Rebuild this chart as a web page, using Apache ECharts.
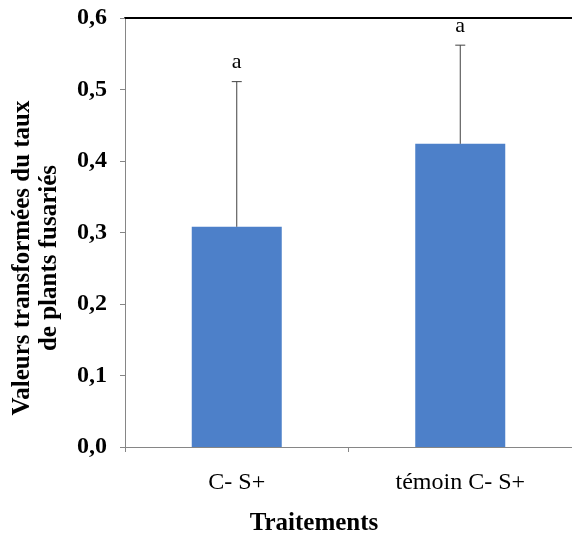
<!DOCTYPE html>
<html>
<head>
<meta charset="utf-8">
<script src="https://cdn.jsdelivr.net/npm/echarts@6/dist/echarts.min.js"></script>
<style>
  html, body { margin: 0; padding: 0; background: #fff; }
  #chart { width: 572px; height: 533px; }
</style>
</head>
<body>
<div id="chart"></div>
<script>
// données
const categories = ['C- S+', 'témoin C- S+']
const means = [0.308, 0.424]
const upper = [0.511, 0.562]   // moyenne + écart-type
const letters = ['a', 'a']
const yTicks = ['0,0', '0,1', '0,2', '0,3', '0,4', '0,5', '0,6']

const serif = '"Liberation Serif", "DejaVu Serif", serif'
const grey = '#868686'

const chart = echarts.init(document.getElementById('chart'))

const option = {
  animation: false,
  backgroundColor: '#fff',
  grid: { left: 125, right: -5, top: 18, bottom: 86 },
  title: {
    text: 'Traitements',
    left: 309,
    top: 506,
    textAlign: 'center',
    textStyle: { fontFamily: serif, fontSize: 25, fontWeight: 'bold', color: '#000' }
  },
  graphic: [{
    type: 'text',
    x: 36,
    y: 258,
    rotation: Math.PI / 2,
    style: {
      text: 'Valeurs transformées du taux\nde plants fusariés',
      textAlign: 'center',
      textVerticalAlign: 'middle',
      font: 'bold 25px ' + serif,
      lineHeight: 27,
      fill: '#000'
    }
  }],
  xAxis: [{
    type: 'category',
    data: categories,
    axisLine: { lineStyle: { color: grey, width: 1 } },
    axisTick: { show: true, length: 5, lineStyle: { color: grey } },
    axisLabel: { margin: 24, fontFamily: serif, fontSize: 24, color: '#000' }
  }, {
    // bordure noire en haut de la zone
    type: 'category',
    data: categories,
    position: 'top',
    axisLine: { lineStyle: { color: '#000', width: 2 } },
    axisTick: { show: false },
    axisLabel: { show: false }
  }],
  yAxis: {
    type: 'value',
    min: 0,
    max: 0.6,
    interval: 0.1,
    axisLine: { show: true, lineStyle: { color: grey, width: 1 } },
    axisTick: { show: true, length: 5, lineStyle: { color: grey } },
    splitLine: { show: false },
    axisLabel: {
      margin: 18,
      fontFamily: serif,
      fontSize: 24,
      fontWeight: 'bold',
      color: '#000',
      formatter: (v) => yTicks[Math.round(v * 10)]
    }
  },
  series: [{
    type: 'bar',
    data: means,
    barWidth: 90,
    itemStyle: { color: '#4D80C9' }
  }, {
    type: 'custom',
    data: categories.map((c, i) => [i, means[i], upper[i]]),
    z: 5,
    renderItem: (params, api) => {
      const base = api.coord([api.value(0), api.value(1)])
      const top = api.coord([api.value(0), api.value(2)])
      const st = { stroke: '#404040', lineWidth: 1 }
      return {
        type: 'group',
        children: [
          { type: 'line', shape: { x1: base[0], y1: base[1], x2: top[0], y2: top[1] }, style: st },
          { type: 'line', shape: { x1: top[0] - 5, y1: top[1], x2: top[0] + 5, y2: top[1] }, style: st },
          {
            type: 'text',
            x: top[0],
            y: top[1] - 19,
            style: {
              text: letters[params.dataIndex],
              textAlign: 'center',
              textVerticalAlign: 'middle',
              font: '22px ' + serif,
              fill: '#000'
            }
          }
        ]
      }
    }
  }]
}

chart.setOption(option)
</script>
</body>
</html>
